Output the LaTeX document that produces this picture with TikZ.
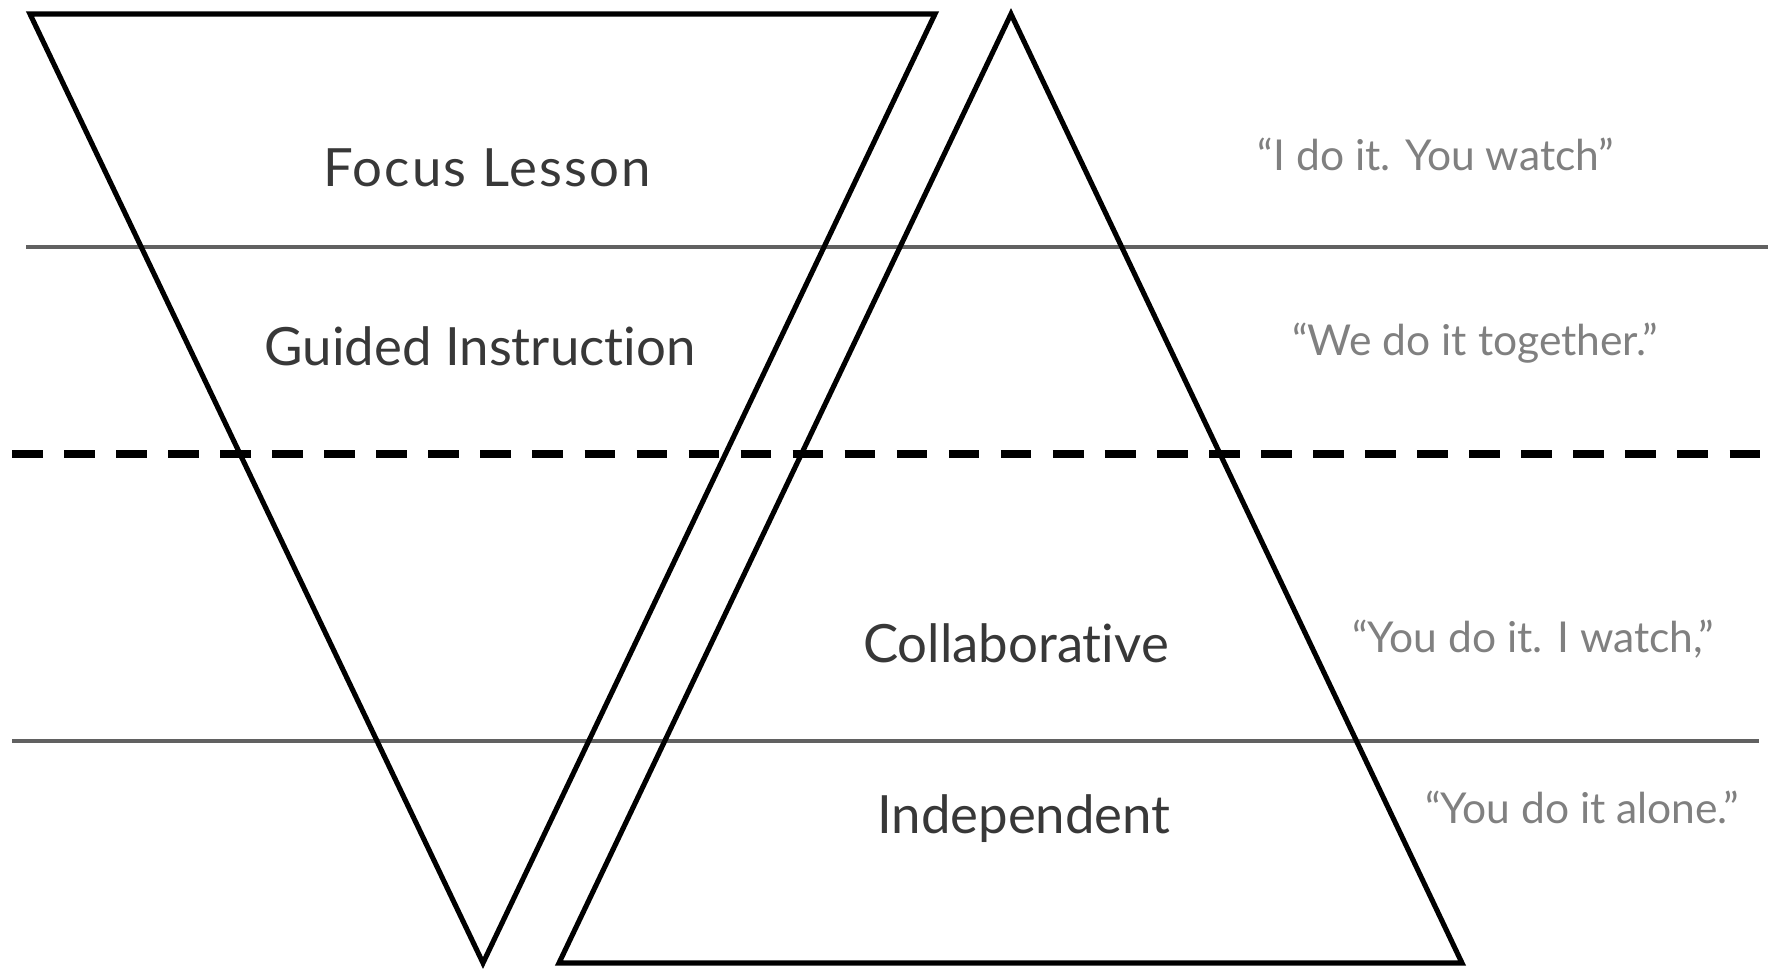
\documentclass[tikz,border=0pt]{standalone}
\usepackage{fontspec}
\setmainfont{Lato}[Ligatures={TeX,NoCommon}]
\usetikzlibrary{calc}
\tikzset{
	tri/.style={line width=1.45pt, line join=miter},
	rule/.style={line width=1pt, draw=black!62},
	split/.style={line width=2pt, dash pattern=on 8.7pt off 6.1pt},
	stage/.style={anchor=base, inner sep=0pt, text=black!78, font=\fontsize{15}{18}\selectfont},
	saying/.style={anchor=base, inner sep=0pt, text=black!50, font=\fontsize{12.1}{15}\selectfont}
}
\begin{document}
\begin{tikzpicture}[x=0.01cm, y=-0.01cm]
		%%%%% START %%%%%
		\useasboundingbox (0, 0) rectangle (1768, 969);
		
		\coordinate (ruleA) at (26, 247);
		\coordinate (ruleAend) at (1768, 247);
		\coordinate (splitL) at (12, 454);
		\coordinate (splitR) at (1768, 454);
		\coordinate (ruleB) at (12, 741);
		\coordinate (ruleBend) at (1759, 741);
		
		\draw[rule] (ruleA) -- (ruleAend);
		\draw[split] (splitL) -- (splitR);
		\draw[rule] (ruleB) -- (ruleBend);
		
		% teacher responsibility
		\coordinate (downL) at (30, 14);
		\coordinate (downR) at (935, 14);
		\coordinate (downTip) at (483, 963);
		\draw[tri] (downL) -- (downR) -- (downTip) -- cycle;
		
		% student responsibility
		\coordinate (upTip) at (1011, 14);
		\coordinate (upL) at (559, 963);
		\coordinate (upR) at (1462, 963);
		\draw[tri] (upTip) -- (upR) -- (upL) -- cycle;
		
		\node[stage] (focus) at (487, 186) {\addfontfeature{LetterSpace=4}Focus Lesson};
		\node[stage] (guided) at (480, 365) {Guided Instruction};
		\node[stage] (collab) at (1016, 662) {Collaborative};
		\node[stage] (indep) at (1024, 833) {Independent};
		
		\node[saying] (sayFocus) at (1436, 170) {“I do it. You watch”};
		\node[saying] (sayGuided) at (1475, 355) {“We do it together.”};
		\node[saying] (sayCollab) at (1533, 652) {“You do it. I watch,”};
		\node[saying] (sayIndep) at (1582, 823) {“You do it alone.”};
		%%%%% END %%%%%
\end{tikzpicture}
\end{document}
